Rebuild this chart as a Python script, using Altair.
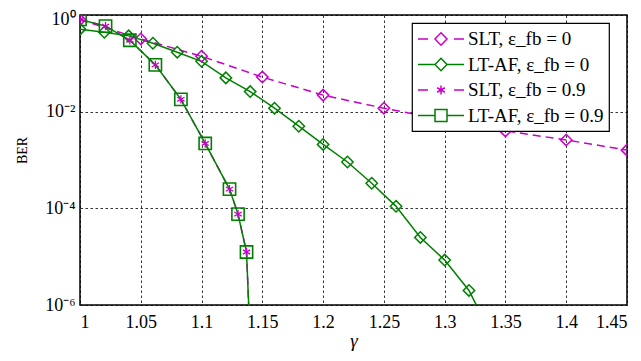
import altair as alt
import pandas as pd

# ---- data ----
slt0_x = [1.00, 1.05, 1.10, 1.15, 1.20, 1.25, 1.30, 1.35, 1.40, 1.45]
slt0_y = [0.80, 0.32, 0.14, 0.052, 0.022, 0.0118, 0.0068, 0.0040, 0.0026, 0.0016]

ltaf0_x = [1.00, 1.02, 1.04, 1.06, 1.08, 1.10, 1.12, 1.14, 1.16, 1.18,
           1.20, 1.22, 1.24, 1.26, 1.28, 1.30, 1.32, 1.34]
ltaf0_y = [0.51, 0.44, 0.37, 0.26, 0.17, 0.11, 0.05, 0.026, 0.0118, 0.005,
           0.0021, 9.1e-4, 3.3e-4, 1.1e-4, 2.5e-5, 8.5e-6, 2.0e-6, 2.0e-7]

fb9_x = [1.00, 1.021, 1.041, 1.062, 1.083, 1.103, 1.123, 1.130, 1.137, 1.142]
fb9_y = [0.81, 0.59, 0.30, 0.093, 0.018, 2.2e-3, 2.5e-4, 7.6e-5, 1.25e-5, 1e-8]

series_names = ["SLT, ε_fb = 0", "LT-AF, ε_fb = 0", "SLT, ε_fb = 0.9", "LT-AF, ε_fb = 0.9"]
series_colors = ["#c800c8", "#008000", "#c800c8", "#008000"]

x_ticks = [1.0, 1.05, 1.1, 1.15, 1.2, 1.25, 1.3, 1.35, 1.4, 1.45]
y_ticks = [1.0, 1e-2, 1e-4, 1e-6]
y_tick_labels = ["10⁰", "10⁻²", "10⁻⁴", "10⁻⁶"]

# legend symbols: line segment + marker (custom svg paths, 1 unit = 10 px,
# drawn to the right of the symbol anchor so nothing sticks out on the left)
legend_paths = [
    "M-1,0H0M2.6,0H3.6M1.3,-0.62L1.9,0L1.3,0.62L0.7,0Z",
    "M-1,0H0.7M1.9,0H3.6M1.3,-0.62L1.9,0L1.3,0.62L0.7,0Z",
    "M-1,0H0M2.6,0H3.6M1.3,-0.45V0.45M0.91,-0.225L1.69,0.225M0.91,0.225L1.69,-0.225",
    "M-1,0H0.7M1.9,0H3.6M0.7,-0.6H1.9V0.6H0.7Z",
]
asterisk = "M0,-1V1M-0.87,-0.5L0.87,0.5M-0.87,0.5L0.87,-0.5"

rows = []
for name, xs, ys in [(series_names[0], slt0_x, slt0_y),
                     (series_names[1], ltaf0_x, ltaf0_y),
                     (series_names[2], fb9_x, fb9_y),
                     (series_names[3], fb9_x, fb9_y)]:
    for xv, yv in zip(xs, ys):
        rows.append({"series": name, "x": xv, "y": yv})
df = pd.DataFrame(rows)

FONT = "Liberation Serif"

exp_expr = "round(log(datum.value)/LN10)"
label_expr = " : ".join(
    f"{exp_expr} == {e} ? '{lab}'" for e, lab in zip([0, -2, -4], y_tick_labels[:3])
) + f" : '{y_tick_labels[3]}'"

xenc = alt.X("x:Q", scale=alt.Scale(domain=[1.0, 1.45], nice=False, zero=False),
             axis=alt.Axis(values=x_ticks, format="~g", title="γ", titleFontStyle="italic",
                           titleFontSize=19, titleFontWeight="normal", titlePadding=0,
                           labelPadding=8, labelFontSize=18))
yenc = alt.Y("y:Q", scale=alt.Scale(type="log", domain=[1e-6, 1.0], nice=False),
             axis=alt.Axis(values=y_ticks, labelExpr=label_expr, title="BER",
                           titleFontSize=14, titleFontWeight="normal", titlePadding=15,
                           titleY=135,
                           labelPadding=5, labelFontSize=18,
                           labelOffset={"condition": {"test": "datum.value >= 0.5", "value": 4},
                                        "value": 0}))

base = alt.Chart(df).encode(x=xenc, y=yenc)

def sel(i):
    return base.transform_filter(alt.datum.series == series_names[i])

line_slt0 = sel(0).mark_line(color=series_colors[0], strokeWidth=1.5, strokeDash=[8, 5], clip=True)
line_slt9 = sel(2).mark_line(color=series_colors[2], strokeWidth=1.5, strokeDash=[8, 5], clip=True)
line_lt0 = sel(1).mark_line(color=series_colors[1], strokeWidth=1.5, clip=True)
line_lt9 = sel(3).mark_line(color=series_colors[3], strokeWidth=1.5, clip=True)

pt_slt0 = sel(0).mark_point(shape="diamond", size=130, color=series_colors[0], filled=False,
                            strokeWidth=1.5, opacity=1, clip=True)
pt_lt0 = sel(1).mark_point(shape="diamond", size=130, color=series_colors[1], filled=False,
                           strokeWidth=1.5, opacity=1, clip=True)
pt_lt9 = sel(3).mark_point(shape="square", size=150, color=series_colors[3], filled=False,
                           strokeWidth=1.6, opacity=1, clip=True)
pt_slt9 = sel(2).mark_point(shape=asterisk, size=70, color=series_colors[2], filled=False,
                            strokeWidth=1.3, opacity=1, clip=True)

legend_df = df.groupby("series", sort=False).head(1)
legend_layer = alt.Chart(legend_df).mark_point(opacity=0, filled=False, size=400).encode(
    x=xenc, y=yenc,
    color=alt.Color("series:N", scale=alt.Scale(domain=series_names, range=series_colors),
                    legend=alt.Legend(title=None, symbolSize=400)),
    shape=alt.Shape("series:N", scale=alt.Scale(domain=series_names, range=legend_paths),
                    legend=alt.Legend(title=None, symbolSize=400)),
)

chart = alt.layer(
    line_slt0, line_slt9, line_lt0, line_lt9, pt_slt0, pt_lt0, pt_lt9, pt_slt9, legend_layer
).properties(
    width=547, height=290,
    autosize=alt.AutoSizeParams(type="none"),
    padding={"left": 72, "top": 7, "right": 6, "bottom": 60},
    background="white",
).configure_view(
    stroke="black", strokeWidth=1.5
).configure_axis(
    labelFont=FONT, titleFont=FONT, labelColor="black", titleColor="black",
    domain=False, ticks=False, grid=True, gridColor="black", gridDash=[2.5, 2.5],
    gridWidth=0.8, gridOpacity=1,
).configure_legend(
    orient="none", legendX=332, legendY=8,
    fillColor="white", strokeColor="black", strokeWidth=1.2,
    padding=5, symbolSize=400, symbolStrokeWidth=1.5, symbolOpacity=1,
    symbolFillColor="transparent",
    labelFont=FONT, labelFontSize=19, labelColor="black", labelOffset=29,
    rowPadding=4.5, labelLimit=300,
)

chart.save("out.html", embed_options={"renderer": "svg", "actions": False})
